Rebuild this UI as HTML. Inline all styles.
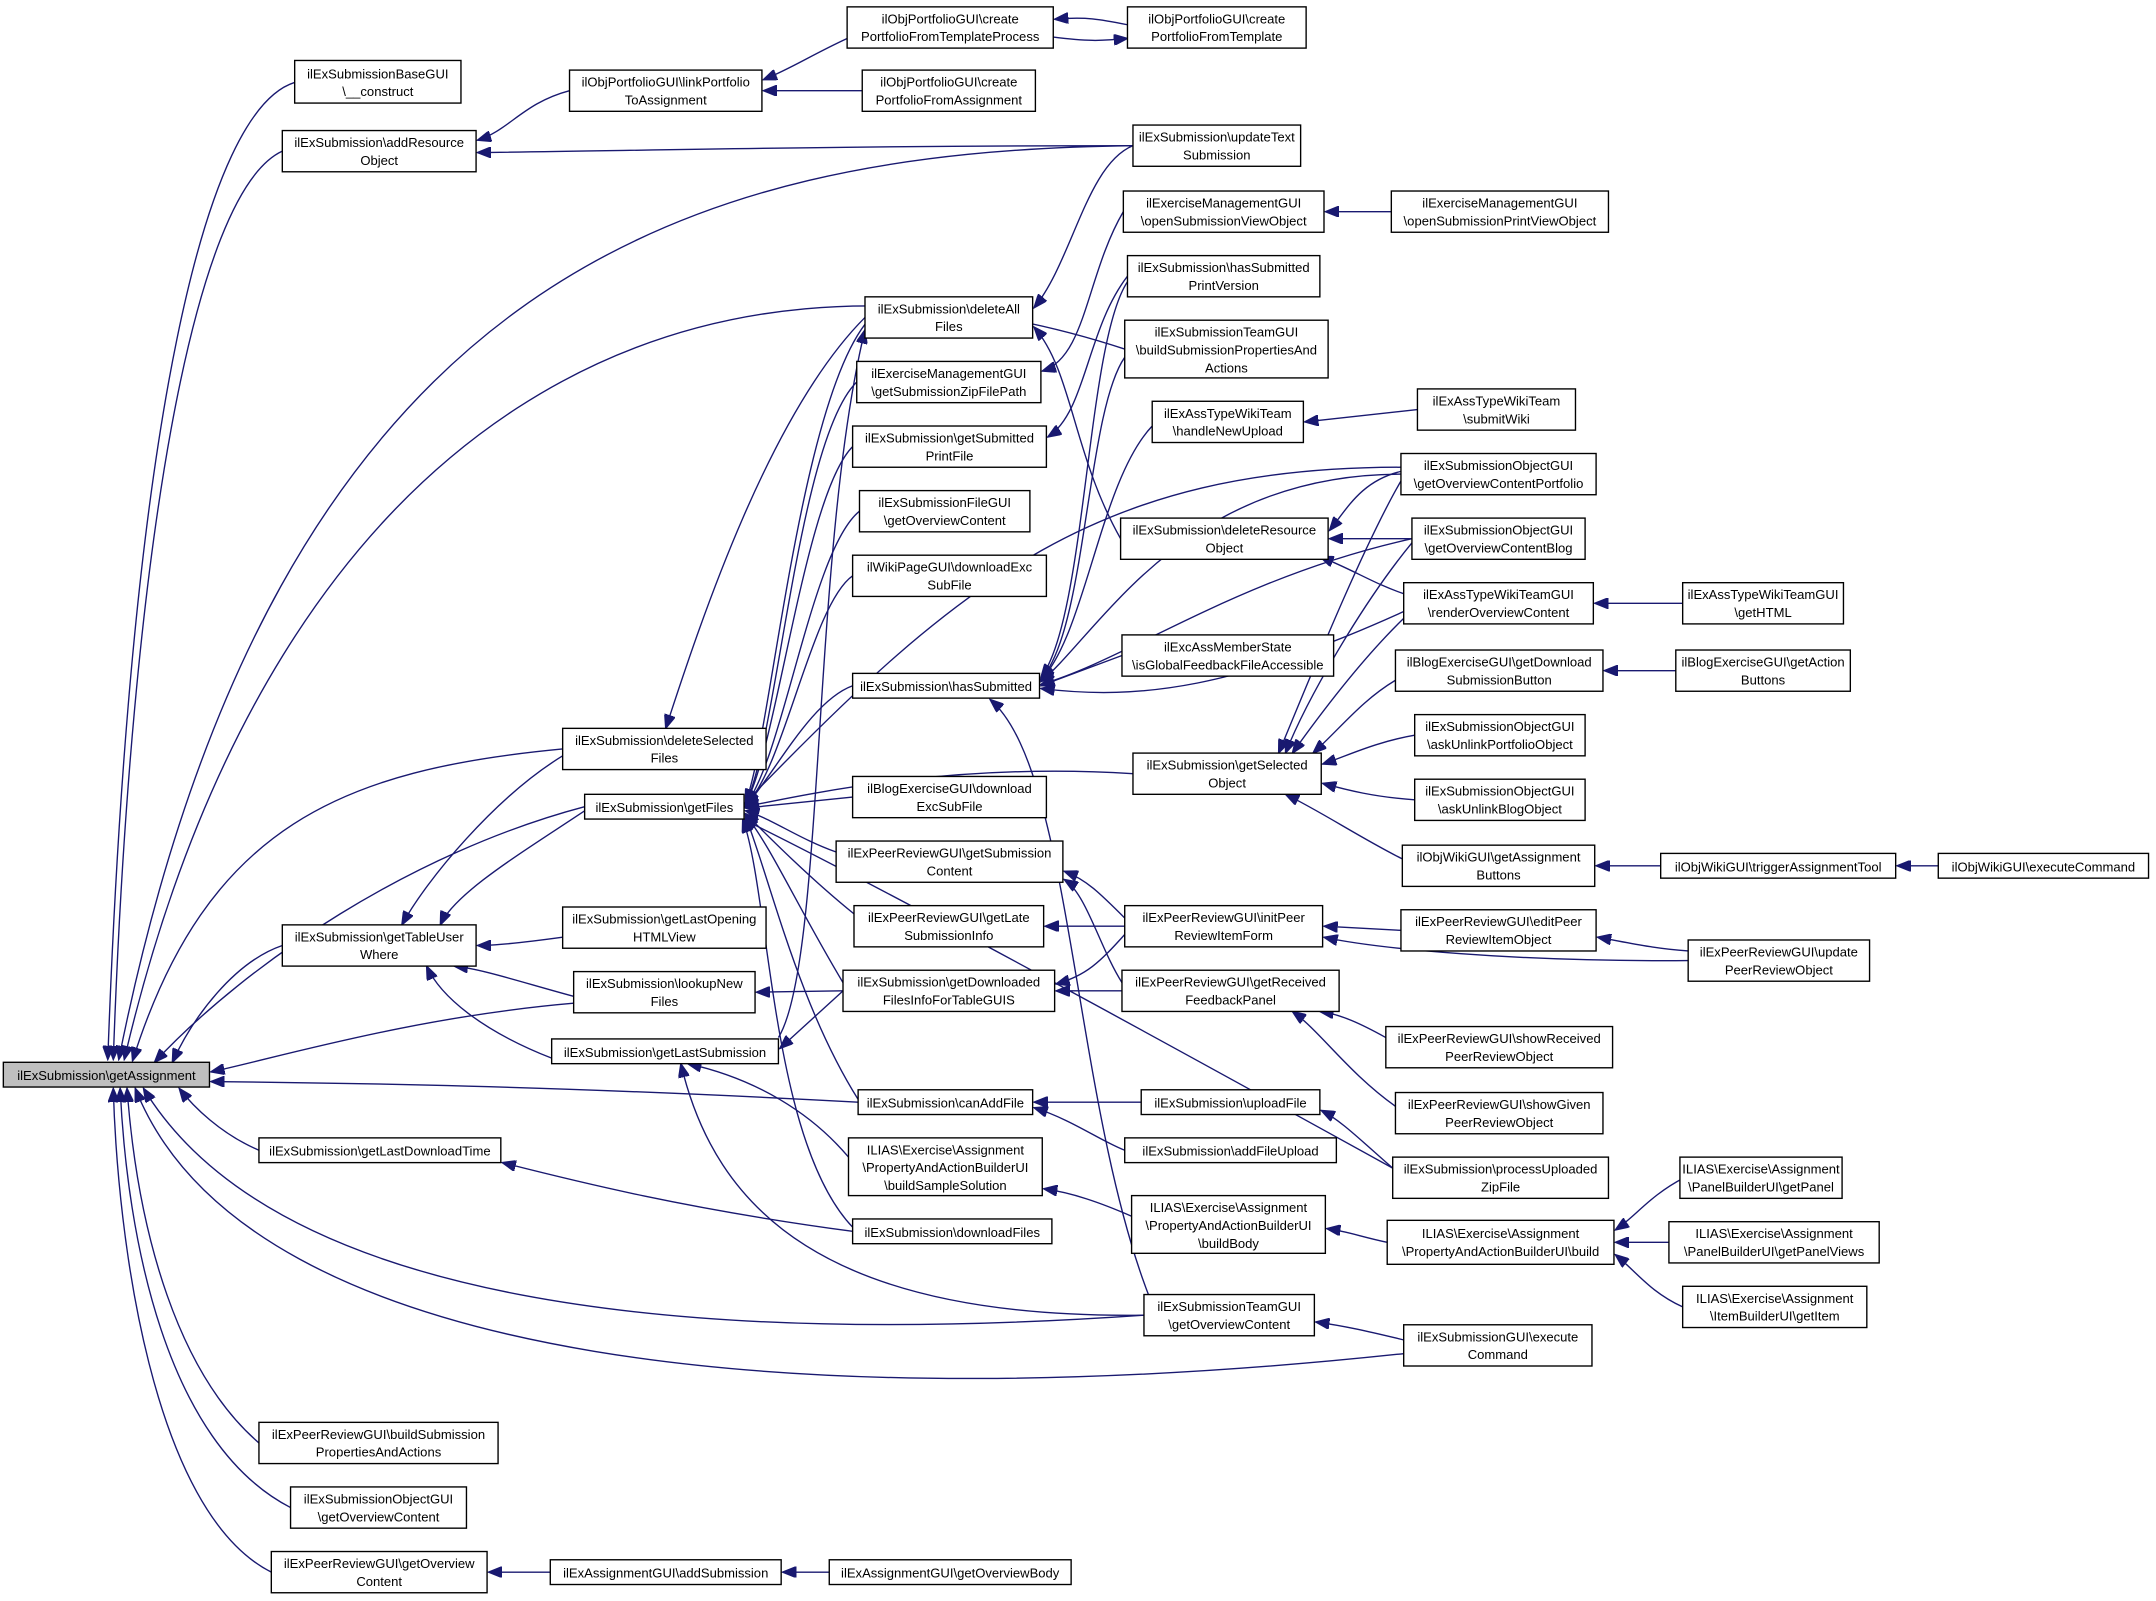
<!DOCTYPE html>
<html><head><meta charset="utf-8"><style>
html,body{margin:0;padding:0;background:#fff;}
svg{display:block;}
text{font-family:"Liberation Sans",sans-serif;font-size:9.5px;fill:#000;text-anchor:middle;}
rect{fill:#fff;stroke:#000;stroke-width:1;}
path{fill:none;stroke:#191970;stroke-width:1;marker-end:url(#a);}
</style></head><body>
<svg width="2156" height="1601" viewBox="0 0 1568 1165" xmlns="http://www.w3.org/2000/svg">
<defs><marker id="a" markerUnits="userSpaceOnUse" markerWidth="11" markerHeight="8" refX="10" refY="4" orient="auto"><polygon points="0,0 10,4 0,8" fill="#191970" stroke="#191970"/></marker></defs>

<path d="M214,60 C150,80 95,300 78,771"/>
<path d="M205,110 C140,140 95,400 82,771"/>
<path d="M824,106 C500,110 200,200 86,771"/>
<path d="M818,254 C500,150 200,300 90,771"/>
<path d="M409,545 C250,560 150,600 96,772"/>
<path d="M425,587 C300,620 180,700 112,773"/>
<path d="M205,688 C170,700 140,740 125,773"/>
<path d="M417,730 C300,740 200,770 153,780"/>
<path d="M624,802 C400,790 250,788 153,787"/>
<path d="M188,837 C160,825 140,805 130,792"/>
<path d="M832,957 C500,980 200,950 104,792"/>
<path d="M1021,985 C600,1030 180,1000 98,792"/>
<path d="M188,1050 C130,1000 100,900 92,792"/>
<path d="M211,1097 C120,1050 92,900 87,792"/>
<path d="M197,1144 C110,1100 85,900 82,792"/>

<path d="M414,66 C380,75 370,95 347,102"/>
<path d="M824,106 C600,106 450,110 347,111"/>
<path d="M616,28 C590,40 575,50 555,58"/>
<path d="M627,66 L555,66"/>
<path d="M820,18 C800,14 790,12 767,14"/>
<path d="M766,27 C790,30 800,30 820,28"/>
<path d="M629,231 C560,300 510,450 484,530"/>
<path d="M824,106 C790,120 780,190 752,224"/>
<path d="M815,392 C780,330 780,270 752,238"/>
<path d="M409,550 C360,580 310,640 292,673"/>
<path d="M425,590 C380,620 330,650 320,673"/>
<path d="M409,682 C380,686 360,688 347,688"/>
<path d="M417,725 C380,715 350,705 330,703"/>
<path d="M401,770 C350,750 320,725 310,703"/>
<path d="M629,236 C580,300 560,540 542,584"/>
<path d="M623,278 C580,320 565,540 542,585"/>
<path d="M620,325 C585,360 565,545 542,585"/>
<path d="M625,372 C590,400 570,550 542,586"/>
<path d="M620,419 C590,440 570,560 542,586"/>
<path d="M620,499 C590,510 565,560 542,587"/>
<path d="M824,563 C700,555 600,575 542,587"/>
<path d="M620,580 L542,588"/>
<path d="M608,620 C580,610 560,595 542,590"/>
<path d="M621,665 C590,640 560,610 542,592"/>
<path d="M613,715 C580,660 560,615 542,593"/>
<path d="M624,800 C580,730 560,640 542,594"/>
<path d="M620,893 C560,830 560,650 540,596"/>
<path d="M1013,850 C850,760 650,650 540,596"/>
<path d="M1019,340 C800,340 700,420 542,584"/>
<path d="M820,205 C790,250 790,450 757,493"/>
<path d="M818,260 C790,300 790,460 757,494"/>
<path d="M838,310 C800,350 790,460 757,495"/>
<path d="M1019,345 C860,345 800,460 757,496"/>
<path d="M1027,392 C900,420 820,480 757,498"/>
<path d="M816,477 L757,499"/>
<path d="M1021,445 C900,500 830,510 757,501"/>
<path d="M836,944 C780,800 780,560 720,509"/>
<path d="M817,154 C790,200 790,260 758,270"/>
<path d="M820,201 C790,240 790,300 762,318"/>
<path d="M1012,154 L964,154"/>
<path d="M1031,298 L949,307"/>
<path d="M1019,343 C990,350 980,370 967,386"/>
<path d="M1027,392 L967,392"/>
<path d="M1021,432 C1000,425 985,415 960,405"/>
<path d="M1019,350 C990,400 950,500 930,548"/>
<path d="M1027,395 C990,440 950,510 935,548"/>
<path d="M1021,450 C990,480 960,520 940,548"/>
<path d="M1015,495 C990,510 975,530 955,548"/>
<path d="M1029,535 C1000,540 980,550 962,556"/>
<path d="M1029,582 C1000,580 980,575 962,570"/>
<path d="M1020,625 C990,610 960,590 935,578"/>
<path d="M1226,439 L1160,439"/>
<path d="M1222,488 L1167,488"/>
<path d="M1208,630 L1161,630"/>
<path d="M1410,630 L1380,630"/>
<path d="M566,755 C600,700 590,400 629,240"/>
<path d="M613,721 L567,763"/>
<path d="M613,721 L550,722"/>
<path d="M617,842 C590,810 550,785 500,774"/>
<path d="M832,957 C600,960 520,880 495,774"/>
<path d="M818,674 L760,674"/>
<path d="M818,668 C800,650 790,640 774,634"/>
<path d="M816,715 C800,690 790,650 774,640"/>
<path d="M818,680 C800,700 790,710 768,716"/>
<path d="M816,721 L768,721"/>
<path d="M1019,677 L963,674"/>
<path d="M1228,699 C1100,700 1000,690 963,682"/>
<path d="M1228,692 C1200,690 1180,685 1162,682"/>
<path d="M1008,755 C990,745 975,738 960,736"/>
<path d="M1015,805 C980,780 960,750 940,736"/>
<path d="M830,802 L752,802"/>
<path d="M818,837 C800,830 780,815 752,806"/>
<path d="M1013,850 C990,830 975,815 961,808"/>
<path d="M823,885 C800,875 780,868 759,865"/>
<path d="M1009,904 C990,900 980,896 965,894"/>
<path d="M1225,857 C1200,870 1190,885 1175,895"/>
<path d="M1214,904 L1175,904"/>
<path d="M1224,951 C1200,940 1190,925 1175,913"/>
<path d="M1021,975 C1000,970 980,965 957,962"/>
<path d="M620,896 C500,880 420,860 365,846"/>
<path d="M400,1144 L355,1144"/>
<path d="M603,1144 L569,1144"/>

<rect x="2" y="773" width="150" height="18" style="fill:#bfbfbf"/><text x="77" y="786">ilExSubmission\getAssignment</text>
<rect x="214" y="44" width="121" height="31"/><text x="274.5" y="57">ilExSubmissionBaseGUI</text><text x="274.5" y="70">\__construct</text>
<rect x="205" y="95" width="141" height="30"/><text x="275.5" y="107">ilExSubmission\addResource</text><text x="275.5" y="120">Object</text>
<rect x="414" y="51" width="140" height="30"/><text x="484" y="63">ilObjPortfolioGUI\linkPortfolio</text><text x="484" y="76">ToAssignment</text>
<rect x="616" y="5" width="150" height="30"/><text x="691" y="17">ilObjPortfolioGUI\create</text><text x="691" y="30">PortfolioFromTemplateProcess</text>
<rect x="627" y="51" width="126" height="30"/><text x="690" y="63">ilObjPortfolioGUI\create</text><text x="690" y="76">PortfolioFromAssignment</text>
<rect x="820" y="5" width="130" height="30"/><text x="885" y="17">ilObjPortfolioGUI\create</text><text x="885" y="30">PortfolioFromTemplate</text>
<rect x="824" y="91" width="122" height="30"/><text x="885" y="103">ilExSubmission\updateText</text><text x="885" y="116">Submission</text>
<rect x="817" y="139" width="146" height="30"/><text x="890" y="151">ilExerciseManagementGUI</text><text x="890" y="164">\openSubmissionViewObject</text>
<rect x="1012" y="139" width="158" height="30"/><text x="1091" y="151">ilExerciseManagementGUI</text><text x="1091" y="164">\openSubmissionPrintViewObject</text>
<rect x="820" y="186" width="140" height="30"/><text x="890" y="198">ilExSubmission\hasSubmitted</text><text x="890" y="211">PrintVersion</text>
<rect x="818" y="233" width="148" height="42"/><text x="892" y="245">ilExSubmissionTeamGUI</text><text x="892" y="258">\buildSubmissionPropertiesAnd</text><text x="892" y="271">Actions</text>
<rect x="838" y="292" width="110" height="30"/><text x="893" y="304">ilExAssTypeWikiTeam</text><text x="893" y="317">\handleNewUpload</text>
<rect x="1031" y="283" width="115" height="30"/><text x="1088.5" y="295">ilExAssTypeWikiTeam</text><text x="1088.5" y="308">\submitWiki</text>
<rect x="629" y="216" width="122" height="30"/><text x="690" y="228">ilExSubmission\deleteAll</text><text x="690" y="241">Files</text>
<rect x="623" y="263" width="134" height="30"/><text x="690" y="275">ilExerciseManagementGUI</text><text x="690" y="288">\getSubmissionZipFilePath</text>
<rect x="620" y="310" width="141" height="30"/><text x="690.5" y="322">ilExSubmission\getSubmitted</text><text x="690.5" y="335">PrintFile</text>
<rect x="625" y="357" width="124" height="30"/><text x="687" y="369">ilExSubmissionFileGUI</text><text x="687" y="382">\getOverviewContent</text>
<rect x="620" y="404" width="141" height="30"/><text x="690.5" y="416">ilWikiPageGUI\downloadExc</text><text x="690.5" y="429">SubFile</text>
<rect x="620" y="490" width="136" height="18"/><text x="688" y="503">ilExSubmission\hasSubmitted</text>
<rect x="620" y="565" width="141" height="30"/><text x="690.5" y="577">ilBlogExerciseGUI\download</text><text x="690.5" y="590">ExcSubFile</text>
<rect x="608" y="612" width="165" height="30"/><text x="690.5" y="624">ilExPeerReviewGUI\getSubmission</text><text x="690.5" y="637">Content</text>
<rect x="621" y="659" width="138" height="30"/><text x="690" y="671">ilExPeerReviewGUI\getLate</text><text x="690" y="684">SubmissionInfo</text>
<rect x="613" y="706" width="154" height="30"/><text x="690" y="718">ilExSubmission\getDownloaded</text><text x="690" y="731">FilesInfoForTableGUIS</text>
<rect x="624" y="793" width="127" height="18"/><text x="687.5" y="806">ilExSubmission\canAddFile</text>
<rect x="617" y="828" width="141" height="42"/><text x="687.5" y="840">ILIAS\Exercise\Assignment</text><text x="687.5" y="853">\PropertyAndActionBuilderUI</text><text x="687.5" y="866">\buildSampleSolution</text>
<rect x="620" y="887" width="145" height="18"/><text x="692.5" y="900">ilExSubmission\downloadFiles</text>
<rect x="409" y="530" width="148" height="30"/><text x="483" y="542">ilExSubmission\deleteSelected</text><text x="483" y="555">Files</text>
<rect x="425" y="578" width="116" height="18"/><text x="483" y="591">ilExSubmission\getFiles</text>
<rect x="409" y="660" width="148" height="30"/><text x="483" y="672">ilExSubmission\getLastOpening</text><text x="483" y="685">HTMLView</text>
<rect x="417" y="707" width="132" height="30"/><text x="483" y="719">ilExSubmission\lookupNew</text><text x="483" y="732">Files</text>
<rect x="401" y="756" width="165" height="18"/><text x="483.5" y="769">ilExSubmission\getLastSubmission</text>
<rect x="205" y="673" width="141" height="30"/><text x="275.5" y="685">ilExSubmission\getTableUser</text><text x="275.5" y="698">Where</text>
<rect x="188" y="828" width="176" height="18"/><text x="276" y="841">ilExSubmission\getLastDownloadTime</text>
<rect x="188" y="1035" width="174" height="30"/><text x="275" y="1047">ilExPeerReviewGUI\buildSubmission</text><text x="275" y="1060">PropertiesAndActions</text>
<rect x="211" y="1082" width="128" height="30"/><text x="275" y="1094">ilExSubmissionObjectGUI</text><text x="275" y="1107">\getOverviewContent</text>
<rect x="197" y="1129" width="157" height="30"/><text x="275.5" y="1141">ilExPeerReviewGUI\getOverview</text><text x="275.5" y="1154">Content</text>
<rect x="400" y="1135" width="168" height="18"/><text x="484" y="1148">ilExAssignmentGUI\addSubmission</text>
<rect x="603" y="1135" width="176" height="18"/><text x="691" y="1148">ilExAssignmentGUI\getOverviewBody</text>
<rect x="815" y="377" width="151" height="30"/><text x="890.5" y="389">ilExSubmission\deleteResource</text><text x="890.5" y="402">Object</text>
<rect x="816" y="462" width="154" height="30"/><text x="893" y="474">ilExcAssMemberState</text><text x="893" y="487">\isGlobalFeedbackFileAccessible</text>
<rect x="824" y="548" width="137" height="30"/><text x="892.5" y="560">ilExSubmission\getSelected</text><text x="892.5" y="573">Object</text>
<rect x="818" y="659" width="144" height="30"/><text x="890" y="671">ilExPeerReviewGUI\initPeer</text><text x="890" y="684">ReviewItemForm</text>
<rect x="816" y="706" width="158" height="30"/><text x="895" y="718">ilExPeerReviewGUI\getReceived</text><text x="895" y="731">FeedbackPanel</text>
<rect x="830" y="793" width="130" height="18"/><text x="895" y="806">ilExSubmission\uploadFile</text>
<rect x="818" y="828" width="154" height="18"/><text x="895" y="841">ilExSubmission\addFileUpload</text>
<rect x="823" y="870" width="141" height="42"/><text x="893.5" y="882">ILIAS\Exercise\Assignment</text><text x="893.5" y="895">\PropertyAndActionBuilderUI</text><text x="893.5" y="908">\buildBody</text>
<rect x="832" y="942" width="124" height="30"/><text x="894" y="954">ilExSubmissionTeamGUI</text><text x="894" y="967">\getOverviewContent</text>
<rect x="1019" y="330" width="142" height="30"/><text x="1090" y="342">ilExSubmissionObjectGUI</text><text x="1090" y="355">\getOverviewContentPortfolio</text>
<rect x="1027" y="377" width="126" height="30"/><text x="1090" y="389">ilExSubmissionObjectGUI</text><text x="1090" y="402">\getOverviewContentBlog</text>
<rect x="1021" y="424" width="138" height="30"/><text x="1090" y="436">ilExAssTypeWikiTeamGUI</text><text x="1090" y="449">\renderOverviewContent</text>
<rect x="1015" y="473" width="151" height="30"/><text x="1090.5" y="485">ilBlogExerciseGUI\getDownload</text><text x="1090.5" y="498">SubmissionButton</text>
<rect x="1029" y="520" width="124" height="30"/><text x="1091" y="532">ilExSubmissionObjectGUI</text><text x="1091" y="545">\askUnlinkPortfolioObject</text>
<rect x="1029" y="567" width="124" height="30"/><text x="1091" y="579">ilExSubmissionObjectGUI</text><text x="1091" y="592">\askUnlinkBlogObject</text>
<rect x="1020" y="615" width="140" height="30"/><text x="1090" y="627">ilObjWikiGUI\getAssignment</text><text x="1090" y="640">Buttons</text>
<rect x="1019" y="662" width="142" height="30"/><text x="1090" y="674">ilExPeerReviewGUI\editPeer</text><text x="1090" y="687">ReviewItemObject</text>
<rect x="1008" y="747" width="165" height="30"/><text x="1090.5" y="759">ilExPeerReviewGUI\showReceived</text><text x="1090.5" y="772">PeerReviewObject</text>
<rect x="1015" y="795" width="151" height="30"/><text x="1090.5" y="807">ilExPeerReviewGUI\showGiven</text><text x="1090.5" y="820">PeerReviewObject</text>
<rect x="1013" y="842" width="157" height="30"/><text x="1091.5" y="854">ilExSubmission\processUploaded</text><text x="1091.5" y="867">ZipFile</text>
<rect x="1009" y="888" width="165" height="32"/><text x="1091.5" y="901">ILIAS\Exercise\Assignment</text><text x="1091.5" y="914">\PropertyAndActionBuilderUI\build</text>
<rect x="1021" y="964" width="137" height="30"/><text x="1089.5" y="976">ilExSubmissionGUI\execute</text><text x="1089.5" y="989">Command</text>
<rect x="1224" y="424" width="117" height="30"/><text x="1282.5" y="436">ilExAssTypeWikiTeamGUI</text><text x="1282.5" y="449">\getHTML</text>
<rect x="1219" y="473" width="127" height="30"/><text x="1282.5" y="485">ilBlogExerciseGUI\getAction</text><text x="1282.5" y="498">Buttons</text>
<rect x="1208" y="621" width="171" height="18"/><text x="1293.5" y="634">ilObjWikiGUI\triggerAssignmentTool</text>
<rect x="1228" y="684" width="132" height="30"/><text x="1294" y="696">ilExPeerReviewGUI\update</text><text x="1294" y="709">PeerReviewObject</text>
<rect x="1222" y="842" width="118" height="30"/><text x="1281" y="854">ILIAS\Exercise\Assignment</text><text x="1281" y="867">\PanelBuilderUI\getPanel</text>
<rect x="1214" y="889" width="153" height="30"/><text x="1290.5" y="901">ILIAS\Exercise\Assignment</text><text x="1290.5" y="914">\PanelBuilderUI\getPanelViews</text>
<rect x="1224" y="936" width="134" height="30"/><text x="1291" y="948">ILIAS\Exercise\Assignment</text><text x="1291" y="961">\ItemBuilderUI\getItem</text>
<rect x="1410" y="621" width="153" height="18"/><text x="1486.5" y="634">ilObjWikiGUI\executeCommand</text>
</svg>
</body></html>
